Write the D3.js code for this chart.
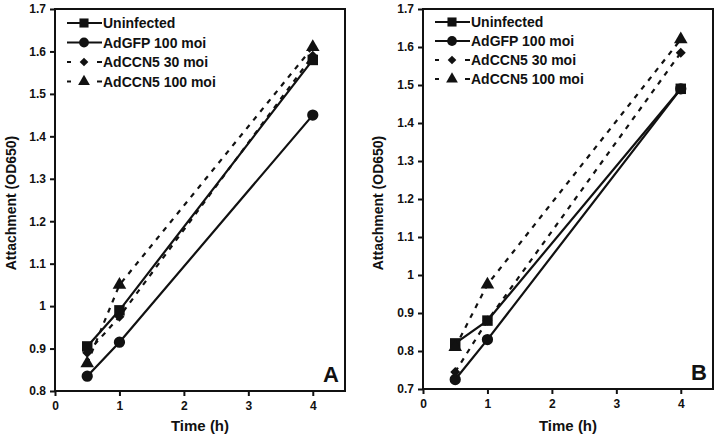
<!DOCTYPE html>
<html>
<head>
<meta charset="utf-8">
<script src="https://cdn.jsdelivr.net/npm/d3@7"></script>
<style>
  body { margin: 0; background: #fff; }
  text { font-family: "Liberation Sans", Arial, sans-serif; font-weight: bold; fill: #111; }
</style>
</head>
<body>
<div id="chart"></div>
<script>
// time points (h)
const times = [0.5, 1, 4];
const seriesNames = ["Uninfected", "AdGFP 100 moi", "AdCCN5 30 moi", "AdCCN5 100 moi"];

// panel A values
const aUninfected = [0.905, 0.99, 1.58];
const aGFP = [0.835, 0.915, 1.45];
const aCCN5_30 = [0.89, 0.975, 1.59];
const aCCN5_100 = [0.865, 1.05, 1.61];

// panel B values
const bUninfected = [0.82, 0.88, 1.49];
const bGFP = [0.725, 0.83, 1.49];
const bCCN5_30 = [0.745, 0.88, 1.585];
const bCCN5_100 = [0.81, 0.975, 1.62];

const xTicks = [0, 1, 2, 3, 4];
const aYTicks = [0.8, 0.9, 1, 1.1, 1.2, 1.3, 1.4, 1.5, 1.6, 1.7];
const bYTicks = [0.7, 0.8, 0.9, 1, 1.1, 1.2, 1.3, 1.4, 1.5, 1.6, 1.7];

const width = 720, height = 435;
const svg = d3.select("#chart").append("svg")
    .attr("width", width)
    .attr("height", height);

// square, circle, diamond (rotated square), triangle
const symbols = [d3.symbolSquare, d3.symbolCircle, d3.symbolSquare, d3.symbolTriangle];
const symSize = [110, 100, 50, 80];
const symRotate = [0, 0, 45, 0];
const dashed = [false, false, true, true];

function drawPanel(opts) {
    const g = svg.append("g");
    const x = d3.scaleLinear().domain([0, 4.5]).range([opts.left, opts.right]);
    const y = d3.scaleLinear().domain(opts.yDomain).range([opts.bottom, opts.top]);

    // frame
    g.append("rect")
        .attr("x", opts.left).attr("y", opts.top)
        .attr("width", opts.right - opts.left)
        .attr("height", opts.bottom - opts.top)
        .attr("fill", "none").attr("stroke", "#111").attr("stroke-width", 2);

    const xAxis = g.append("g")
        .attr("transform", `translate(0,${opts.bottom})`)
        .call(d3.axisBottom(x).tickValues(xTicks).tickSize(5).tickPadding(5).tickFormat(d3.format("d")));
    const yAxis = g.append("g")
        .attr("transform", `translate(${opts.left},0)`)
        .call(d3.axisLeft(y).tickValues(opts.yTicks).tickSize(5).tickPadding(4).tickFormat(d => String(+d.toFixed(1))));
    [xAxis, yAxis].forEach(a => {
        a.attr("font-family", null).attr("font-size", null);
        a.select(".domain").remove();
        a.selectAll("line").attr("stroke", "#111").attr("stroke-width", 2);
        a.selectAll("text").attr("font-size", 12).attr("fill", "#111");
    });

    const line = d3.line().x((d, i) => x(times[i])).y(d => y(d));

    opts.series.forEach((vals, s) => {
        g.append("path")
            .datum(vals)
            .attr("d", line)
            .attr("fill", "none")
            .attr("stroke", "#111")
            .attr("stroke-width", 2.2)
            .attr("stroke-dasharray", dashed[s] ? "5,6" : null);
    });
    opts.series.forEach((vals, s) => {
        g.selectAll(null)
            .data(vals)
            .enter()
            .append("path")
            .attr("d", d3.symbol().type(symbols[s]).size(symSize[s]))
            .attr("transform", (d, i) => `translate(${x(times[i])},${y(d)}) rotate(${symRotate[s]})`)
            .attr("fill", "#111");
    });

    // legend
    seriesNames.forEach((name, s) => {
        const ly = opts.legendY + s * opts.legendStep;
        const lx = opts.left + 12;
        if (dashed[s]) {
            g.append("line").attr("x1", lx).attr("x2", lx + 4).attr("y1", ly).attr("y2", ly)
                .attr("stroke", "#111").attr("stroke-width", 2);
            g.append("line").attr("x1", lx + 30).attr("x2", lx + 35).attr("y1", ly).attr("y2", ly)
                .attr("stroke", "#111").attr("stroke-width", 2);
        } else {
            g.append("line").attr("x1", lx).attr("x2", lx + 35).attr("y1", ly).attr("y2", ly)
                .attr("stroke", "#111").attr("stroke-width", 2);
        }
        g.append("path")
            .attr("d", d3.symbol().type(symbols[s]).size(symSize[s] * 0.75))
            .attr("transform", `translate(${lx + 17},${ly}) rotate(${symRotate[s]})`)
            .attr("fill", "#111");
        g.append("text")
            .attr("x", lx + 36).attr("y", ly + 5)
            .attr("font-size", 14)
            .text(name);
    });

    // axis titles
    g.append("text")
        .attr("transform", `translate(${opts.yLabelX},${opts.yLabelY}) rotate(-90)`)
        .attr("text-anchor", "middle")
        .attr("font-size", 14)
        .text("Attachment (OD650)");
    g.append("text")
        .attr("x", (opts.left + opts.right) / 2 - 0)
        .attr("y", 431)
        .attr("text-anchor", "middle")
        .attr("font-size", 15)
        .text("Time (h)");

    // panel letter
    g.append("text")
        .attr("x", opts.right - 6).attr("y", opts.bottom - 9)
        .attr("text-anchor", "end")
        .attr("font-size", 22)
        .text(opts.letter);
}

drawPanel({
    left: 55, right: 345, top: 9, bottom: 391,
    yDomain: [0.8, 1.7], yTicks: aYTicks,
    series: [aUninfected, aGFP, aCCN5_30, aCCN5_100],
    legendY: 23, legendStep: 19.5, yLabelX: 16, yLabelY: 203, letter: "A"
});

drawPanel({
    left: 423, right: 713, top: 9, bottom: 389,
    yDomain: [0.7, 1.7], yTicks: bYTicks,
    series: [bUninfected, bGFP, bCCN5_30, bCCN5_100],
    legendY: 22, legendStep: 19, yLabelX: 383, yLabelY: 203, letter: "B"
});
</script>
</body>
</html>
